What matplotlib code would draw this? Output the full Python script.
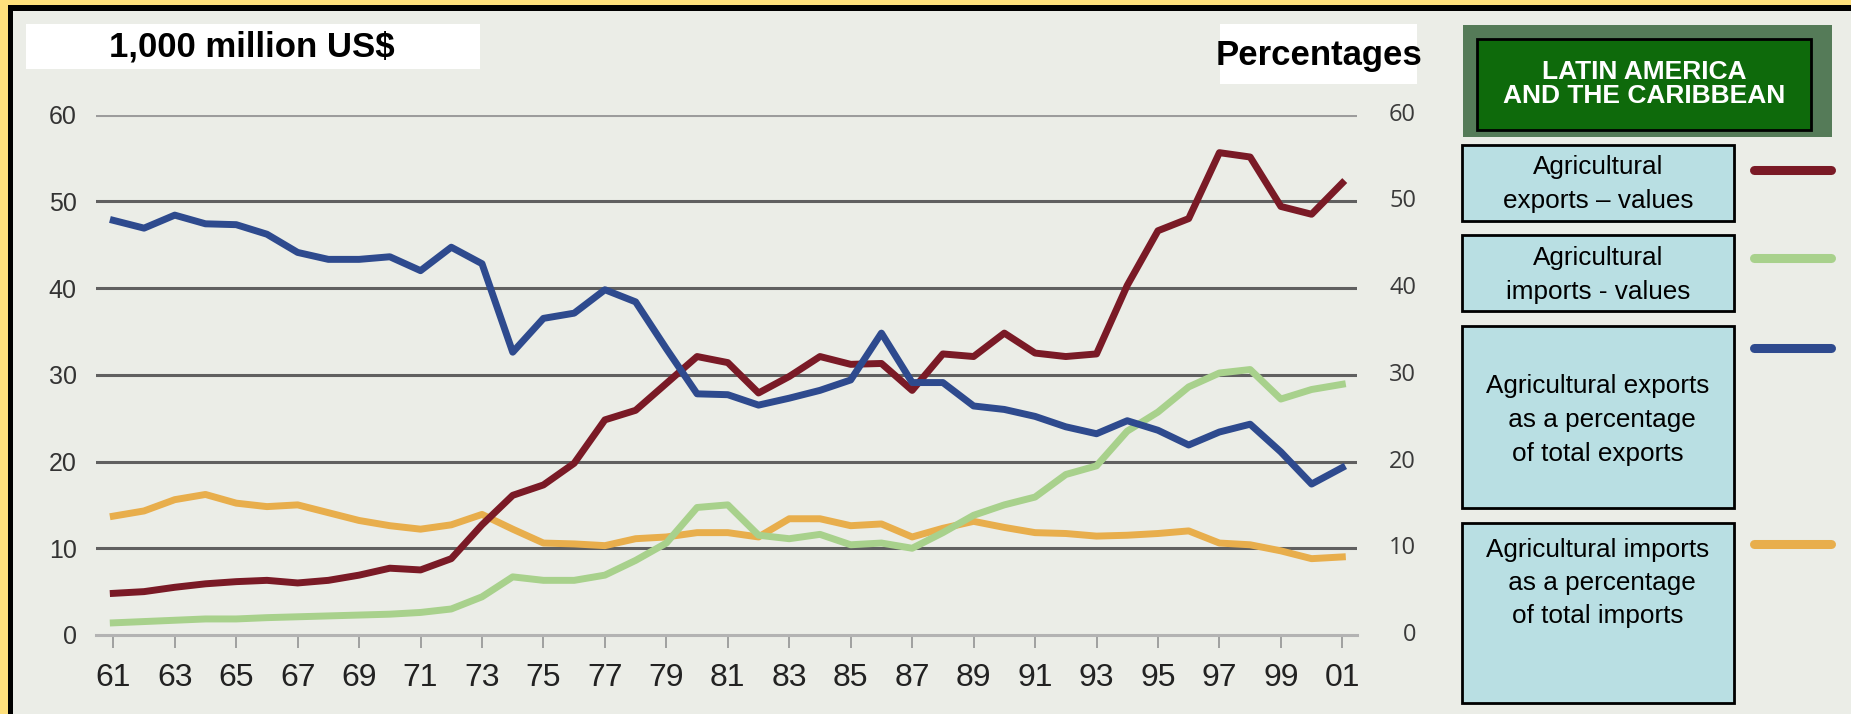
import matplotlib
matplotlib.use("Agg")
import matplotlib.pyplot as plt
from matplotlib.patches import Rectangle

# ---------------- data ----------------
years = list(range(1961, 2002))
exports_values = [4.8, 5.0, 5.5, 5.9, 6.15, 6.3, 6.0, 6.3, 6.9, 7.7,
                  7.5, 8.8, 12.7, 16.1, 17.3, 19.8, 24.8, 25.9, 29.0, 32.1,
                  31.4, 27.9, 29.8, 32.1, 31.2, 31.3, 28.2, 32.4, 32.1, 34.8,
                  32.5, 32.1, 32.4, 40.3, 46.6, 48.0, 55.6, 55.1, 49.4, 48.5,
                  52.1]
imports_values = [1.4, 1.55, 1.7, 1.85, 1.85, 2.0, 2.1, 2.2, 2.3, 2.4,
                  2.6, 3.0, 4.4, 6.7, 6.3, 6.3, 6.9, 8.6, 10.6, 14.7,
                  15.0, 11.5, 11.1, 11.6, 10.4, 10.6, 10.0, 11.8, 13.8, 15.0,
                  15.9, 18.5, 19.5, 23.5, 25.7, 28.6, 30.2, 30.6, 27.2, 28.3,
                  28.9]
exports_pct = [47.8, 46.9, 48.4, 47.4, 47.3, 46.2, 44.1, 43.3, 43.3, 43.6,
               42.0, 44.7, 42.8, 32.6, 36.5, 37.1, 39.8, 38.4, 33.0, 27.8,
               27.7, 26.5, 27.3, 28.2, 29.4, 34.8, 29.1, 29.1, 26.4, 26.0,
               25.2, 24.0, 23.2, 24.7, 23.6, 21.9, 23.4, 24.3, 21.1, 17.4,
               19.3]
imports_pct = [13.7, 14.3, 15.6, 16.2, 15.2, 14.8, 15.0, 14.1, 13.2, 12.6,
               12.2, 12.7, 13.9, 12.2, 10.6, 10.5, 10.3, 11.1, 11.3, 11.8,
               11.8, 11.3, 13.4, 13.4, 12.6, 12.8, 11.3, 12.3, 13.1, 12.4,
               11.8, 11.7, 11.4, 11.5, 11.7, 12.0, 10.6, 10.4, 9.7, 8.8,
               9.0]
xtick_years = list(range(1961, 2002, 2))
xtick_labels = ["%02d" % (y % 100) for y in xtick_years]
yticks = [0, 10, 20, 30, 40, 50, 60]

series_labels = ["Agricultural\nexports \u2013 values",
                 "Agricultural\nimports - values",
                 "Agricultural exports\n as a percentage\nof total exports",
                 "Agricultural imports\n as a percentage\nof total imports"]
colors = ["#7A1A26", "#A8D18C", "#2E4A8E", "#E8AE4C"]
title_left = "1,000 million US$"
title_right = "Percentages"
region = "LATIN AMERICA\nAND THE CARIBBEAN"

# ---------------- figure ----------------
W, H = 1851, 714
fig = plt.figure(figsize=(W / 100, H / 100), dpi=100)
fig.patch.set_facecolor("#FEE07C")

bg = fig.add_axes([0, 0, 1, 1], zorder=0)
bg.set_xlim(0, W)
bg.set_ylim(H, 0)
bg.axis("off")

# frame
bg.add_patch(Rectangle((8, 5), W, H, facecolor="black", edgecolor="none"))
bg.add_patch(Rectangle((13, 11), W, H, facecolor="#EBEDE7", edgecolor="none"))

SANS = ["Liberation Sans", "DejaVu Sans"]

# title boxes
bg.add_patch(Rectangle((26, 24), 454, 45, facecolor="white", edgecolor="none"))
bg.text(252, 47, title_left, ha="center", va="center", fontsize=25,
        fontweight="bold", family=SANS, color="black")
bg.add_patch(Rectangle((1220, 24), 197, 60, facecolor="white", edgecolor="none"))
bg.text(1319, 55, title_right, ha="center", va="center", fontsize=25,
        fontweight="bold", family=SANS, color="black")

# region header
bg.add_patch(Rectangle((1463, 25), 369, 112, facecolor="#557B58", edgecolor="none"))
bg.add_patch(Rectangle((1477, 39), 334, 91, facecolor="#0E6A0B",
                       edgecolor="black", linewidth=2))
bg.text(1644, 84, region, ha="center", va="center", fontsize=19,
        fontweight="bold", family=SANS, color="white", linespacing=1.05)

# legend boxes
boxes = [(145, 221), (235, 311), (326, 508), (523, 703)]
text_y = [184, 275, 420, 583]
line_y = [170, 258, 348, 544]
for (y0, y1), ty, ly, lab, c in zip(boxes, text_y, line_y, series_labels, colors):
    bg.add_patch(Rectangle((1464, y0 + 2), 272, y1 - y0, facecolor="#C9CCC6",
                           edgecolor="none"))
    bg.add_patch(Rectangle((1462, y0), 272, y1 - y0, facecolor="#B9DFE3",
                           edgecolor="black", linewidth=2))
    bg.text(1598, ty, lab, ha="center", va="center", fontsize=18.8,
            family=SANS, color="black", linespacing=1.5)
    bg.plot([1754, 1831], [ly, ly], color=c, lw=6.5, solid_capstyle="round")

# ---------------- main chart ----------------
x_left, x_right = 96, 1357
y_top, y_bot = 114.5, 635
ax = fig.add_axes([x_left / W, (H - y_bot) / H, (x_right - x_left) / W,
                   (y_bot - y_top) / H], zorder=2)
ax.patch.set_alpha(0)
ax.set_xlim(1960.437, 2001.478)
ax.set_ylim(0, 60)

for s in ["top", "right", "left"]:
    ax.spines[s].set_visible(False)
ax.spines["bottom"].set_color("#B3B3B3")
ax.spines["bottom"].set_linewidth(2.2)

ax.set_yticks(yticks)
ax.set_yticklabels([str(v) for v in yticks])
ax.tick_params(axis="y", length=0, pad=14, labelsize=18, labelcolor="#333333")
for lab in ax.get_yticklabels():
    lab.set_family(SANS)

ax.set_xticks(xtick_years)
ax.set_xticklabels(xtick_labels)
ax.tick_params(axis="x", length=9.5, width=1.3, color="#9A9A9A", pad=11,
               labelsize=23, labelcolor="#222222")
for lab in ax.get_xticklabels():
    lab.set_family(SANS)

ax.yaxis.grid(True, color="#606060", linewidth=2.2)
ax.set_axisbelow(True)
glines = ax.get_ygridlines()
glines[0].set_visible(False)
glines[-1].set_color("#9C9C9C")

lw = 5.0
ax.plot(years, imports_pct, color=colors[3], lw=lw, solid_joinstyle="round", zorder=3)
ax.plot(years, imports_values, color=colors[1], lw=lw, solid_joinstyle="round", zorder=3)
ax.plot(years, exports_values, color=colors[0], lw=lw, solid_joinstyle="round", zorder=4)
ax.plot(years, exports_pct, color=colors[2], lw=lw, solid_joinstyle="round", zorder=5)

# right-hand percentage scale labels (same 0-60 scale)
xr = (1416 - x_left) / (x_right - x_left)
for v in yticks:
    ax.text(xr, v, str(v), transform=ax.get_yaxis_transform(), ha="right",
            va="center", fontsize=17, color="#3A3A3A",
            family=["Open Sans", "DejaVu Sans"], clip_on=False)

fig.savefig("out.png", dpi=100, facecolor=fig.get_facecolor())
